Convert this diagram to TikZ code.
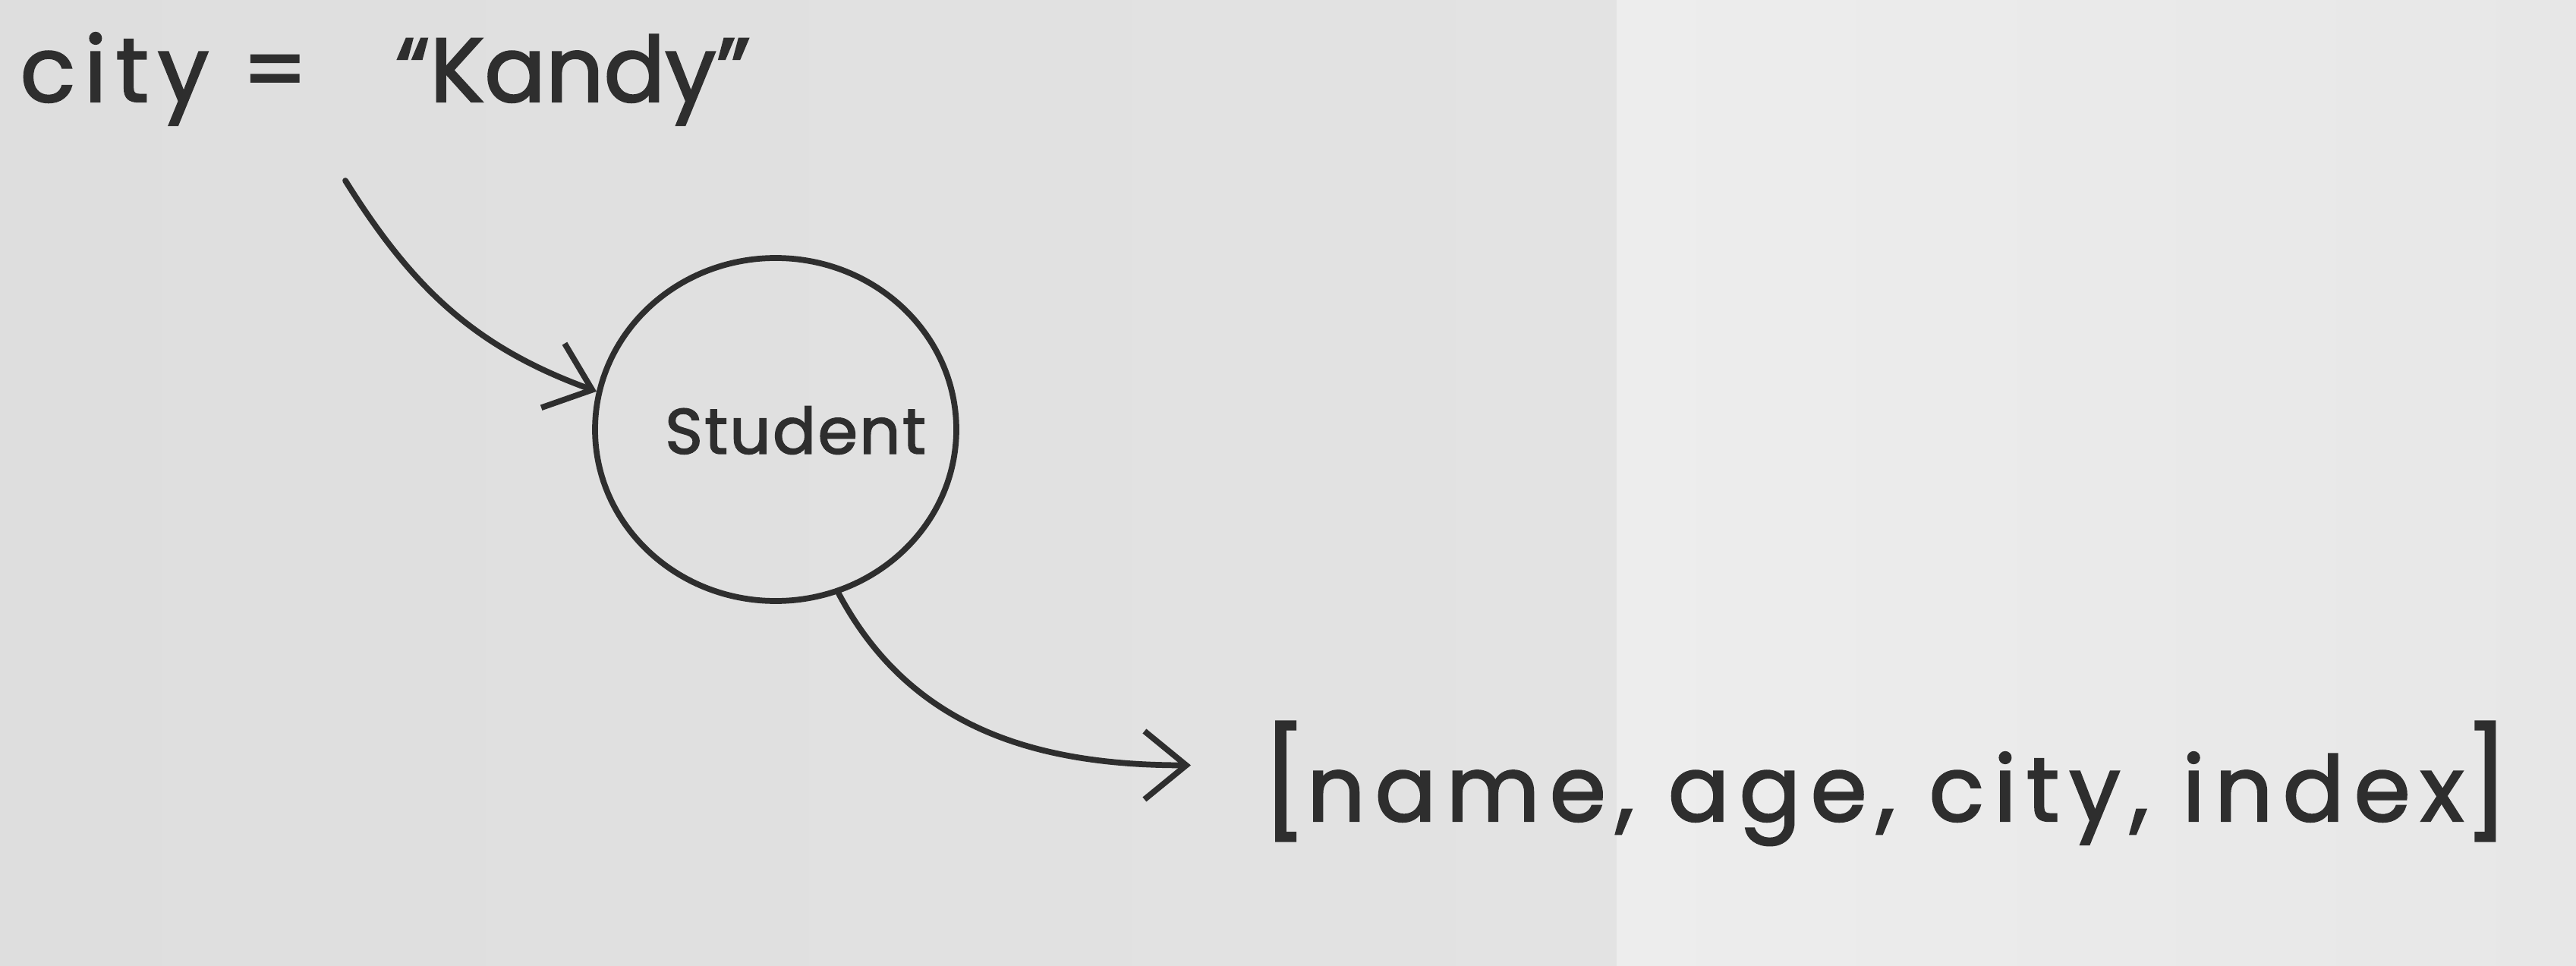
\documentclass[tikz,border=0pt]{standalone}
\usepackage{fontspec}
\setmainfont{Poppins}
\newfontfamily\handfont{Poppins}[FakeBold=2, LetterSpace=10]
\newfontfamily\widehand{Poppins}[FakeBold=2, LetterSpace=11]
\newfontfamily\plainhand{Poppins}[FakeBold=2, LetterSpace=3]
\newfontfamily\tighthand{Poppins}[FakeBold=2]
\usetikzlibrary{arrows.meta,shapes.geometric}
\definecolor{ink}{HTML}{2E2E2E}
\definecolor{paperdark}{HTML}{DEDEDE}
\definecolor{papermid}{HTML}{E3E3E3}
\definecolor{paperlight}{HTML}{EDEDED}

\begin{document}
\begin{tikzpicture}[
    pen/.style={draw=ink, line width=2.2pt, line cap=round, line join=round},
    penarrow/.style={pen, -{Straight Barb[length=5.5mm, width=9mm, line width=2.2pt]}},
    hand/.style={text=ink, inner sep=0pt}
]
% Paper
\useasboundingbox (0,0) rectangle (33.94,12.72);
\shade[left color=paperdark, right color=papermid] (0,0) rectangle (21.3,12.72);
\shade[left color=paperlight, right color=papermid!60!paperlight] (21.3,0) rectangle (33.94,12.72);

% Assignment
\node[hand, anchor=base west, font=\handfont\fontsize{34}{40}\selectfont] (cityval) at (0.26,11.38) {city = \hspace{0.72cm}{\tighthand“Kandy”}};

% Student object
\node[pen, ellipse, minimum width=4.76cm, minimum height=4.52cm, inner sep=0pt] (student) at (10.22,7.06) {};
\node[hand, font=\plainhand\fontsize{24}{28}\selectfont] (studentlabel) at (10.48,7.05) {Student};

% Attribute list
\node[hand, anchor=base west, font=\widehand\fontsize{34}{40}\selectfont] (attrs) at (16.62,1.90) {{\fontsize{40}{40}\selectfont[}name, age, city, index{\fontsize{40}{40}\selectfont]}};

% Arrows
\coordinate (arrowtail) at (4.55,10.34);
\draw[penarrow] (arrowtail) to[out=-58, in=160] (student.168);
\draw[penarrow] (student.-69) to[out=-62, in=180] ([xshift=-9.3mm, yshift=2.4mm]attrs.west);

\end{tikzpicture}
\end{document}
